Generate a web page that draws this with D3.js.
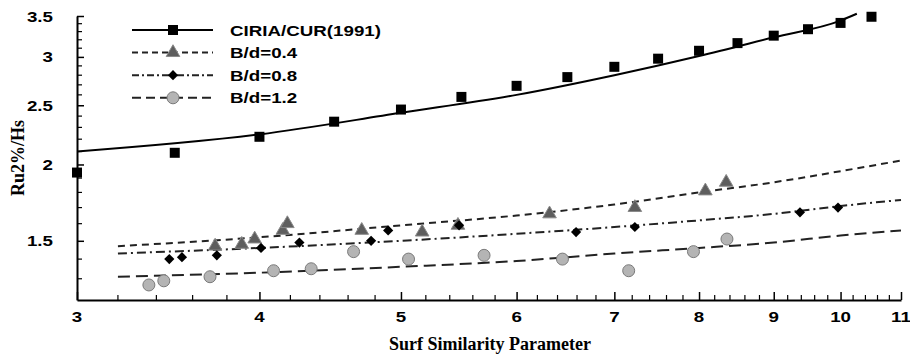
<!DOCTYPE html>
<html>
<head>
<meta charset="utf-8">
<script src="https://cdn.jsdelivr.net/npm/d3@7"></script>
<style>
  body { margin: 0; background: #fff; }
  svg { display: block; }
  .tick-label { font-family: "Liberation Sans", Arial, sans-serif; font-weight: bold; font-size: 15px; fill: #000; }
  .title { font-family: "Liberation Serif", "Times New Roman", serif; font-weight: bold; font-size: 18px; fill: #000; }
</style>
</head>
<body>
<script>
// CIRIA/CUR(1991) points and its fitted curve
const ciriaXi = [3, 3.5, 4, 4.5, 5, 5.5, 6, 6.5, 7, 7.5, 8, 8.5, 9, 9.5, 10, 10.5];
const ciriaRu = [1.94, 2.09, 2.22, 2.35, 2.46, 2.58, 2.69, 2.78, 2.89, 2.98, 3.07, 3.16, 3.25, 3.33, 3.41, 3.49];
const ciriaFitXi = [3, 4, 5, 6, 7, 8, 9, 10, 10.26];
const ciriaFitRu = [2.10, 2.24, 2.43, 2.60, 2.80, 3.01, 3.23, 3.44, 3.53];

// measured points
const b04Xi = [3.73, 3.89, 3.97, 4.15, 4.18, 4.70, 5.17, 5.47, 6.32, 7.23, 8.08, 8.35];
const b04Ru = [1.47, 1.48, 1.51, 1.56, 1.60, 1.56, 1.55, 1.59, 1.66, 1.70, 1.81, 1.87];
const b08Xi = [3.47, 3.54, 3.74, 4.01, 4.26, 4.77, 4.90, 5.48, 6.59, 7.23, 9.38, 9.96];
const b08Ru = [1.40, 1.41, 1.42, 1.46, 1.49, 1.50, 1.56, 1.59, 1.55, 1.58, 1.67, 1.70];
const b12Xi = [3.36, 3.44, 3.70, 4.09, 4.34, 4.64, 5.06, 5.70, 6.45, 7.16, 7.93, 8.36];
const b12Ru = [1.27, 1.29, 1.31, 1.34, 1.35, 1.44, 1.40, 1.42, 1.40, 1.34, 1.44, 1.51];

// trend lines
const trendXi = [3.2, 4, 5, 6, 7, 8, 9, 10, 11];
const b04Fit = [1.47, 1.52, 1.59, 1.65, 1.72, 1.80, 1.87, 1.95, 2.03];
const b08Fit = [1.43, 1.46, 1.50, 1.54, 1.58, 1.62, 1.66, 1.71, 1.75];
const b12Fit = [1.31, 1.33, 1.36, 1.39, 1.43, 1.46, 1.49, 1.53, 1.56];

// axis ticks
const xMajor = [3, 4, 5, 6, 7, 8, 9, 10, 11];
const yMajor = [1.5, 2, 2.5, 3, 3.5];
const legendNames = ["CIRIA/CUR(1991)", "B/d=0.4", "B/d=0.8", "B/d=1.2"];

const width = 910, height = 356;
const stretch = 1.25; // sans labels in the source are drawn wide

const svg = d3.select("body").append("svg")
    .attr("width", width)
    .attr("height", height);

const x = d3.scaleLog().domain([3, 11]).range([77, 901]);
const y = d3.scaleLog().domain([1.2, 3.5]).range([300, 16]);

const zip = (a, b) => a.map((v, i) => [v, b[i]]);

// marker shapes
const sym = {
  square: d3.symbol(d3.symbolSquare, 100)(),
  triangle: d3.symbol(d3.symbolTriangle, 80)(),
  diamond: d3.symbol(d3.symbolSquare, 52)(),
  circle: d3.symbol(d3.symbolCircle, 113)()
};

const series = [
  {name: legendNames[0], pts: zip(ciriaXi, ciriaRu), fit: zip(ciriaFitXi, ciriaFitRu), dash: null,
   shape: "square", fill: "#000", stroke: "none", rot: 0},
  {name: legendNames[1], pts: zip(b04Xi, b04Ru), fit: zip(trendXi, b04Fit), dash: "7,5",
   shape: "triangle", fill: "#5e5e5e", stroke: "#8a8a8a", rot: 0},
  {name: legendNames[2], pts: zip(b08Xi, b08Ru), fit: zip(trendXi, b08Fit), dash: "9,4,2,4",
   shape: "diamond", fill: "#000", stroke: "none", rot: 45},
  {name: legendNames[3], pts: zip(b12Xi, b12Ru), fit: zip(trendXi, b12Fit), dash: "12,6",
   shape: "circle", fill: "#b4b4b4", stroke: "#7a7a7a", rot: 0}
];

// axes, ticks pointing inward; labels added separately below
const xAxis = svg.append("g")
    .attr("transform", "translate(0,300)")
    .call(d3.axisBottom(x).tickValues(xMajor).tickFormat("")
      .tickSizeInner(-8).tickSizeOuter(0));

const yAxis = svg.append("g")
    .attr("transform", "translate(77,0)")
    .call(d3.axisLeft(y).tickValues(yMajor).tickFormat("")
      .tickSizeInner(-7).tickSizeOuter(0));

[xAxis, yAxis].forEach(a => {
  a.select(".domain").attr("stroke", "#000").attr("stroke-width", 2);
  a.selectAll(".tick line").attr("stroke", "#000").attr("stroke-width", 1.5);
});

// tick labels, stretched horizontally like the source
svg.append("g").selectAll("text")
  .data(xMajor)
  .join("text")
    .attr("class", "tick-label")
    .attr("text-anchor", "middle")
    .attr("transform", d => `translate(${x(d)},322) scale(${stretch},1)`)
    .text(d => d);

svg.append("g").selectAll("text")
  .data(yMajor)
  .join("text")
    .attr("class", "tick-label")
    .attr("text-anchor", "end")
    .attr("transform", d => `translate(53,${y(d) + 5.5}) scale(${stretch},1)`)
    .text(d => d);

// minor ticks
svg.append("g").selectAll("line")
  .data(d3.range(3, 11, 0.2).filter(v => Math.abs(v - Math.round(v)) > 0.01))
  .join("line")
    .attr("x1", d => x(d)).attr("x2", d => x(d))
    .attr("y1", 300).attr("y2", 295)
    .attr("stroke", "#000").attr("stroke-width", 1.2);

svg.append("g").selectAll("line")
  .data(d3.range(1.3, 3.5, 0.1).filter(v => Math.abs(v * 2 - Math.round(v * 2)) > 0.01))
  .join("line")
    .attr("x1", 77).attr("x2", 82)
    .attr("y1", d => y(d)).attr("y2", d => y(d))
    .attr("stroke", "#000").attr("stroke-width", 1.2);

// axis titles
svg.append("text")
    .attr("class", "title")
    .attr("x", 490).attr("y", 350)
    .attr("text-anchor", "middle")
    .text("Surf Similarity Parameter");

svg.append("text")
    .attr("class", "title")
    .attr("transform", "translate(24,158) rotate(-90)")
    .attr("text-anchor", "middle")
    .text("Ru2%/Hs");

// fitted lines
const line = d3.line()
    .x(d => x(d[0]))
    .y(d => y(d[1]))
    .curve(d3.curveMonotoneX);

svg.append("g").selectAll("path")
  .data(series)
  .join("path")
    .attr("d", d => line(d.fit))
    .attr("fill", "none")
    .attr("stroke", (d, i) => i === 0 ? "#000" : "#222")
    .attr("stroke-width", 2)
    .attr("stroke-dasharray", d => d.dash);

// markers
series.forEach(s => {
  svg.append("g").selectAll("path")
    .data(s.pts)
    .join("path")
      .attr("d", sym[s.shape])
      .attr("transform", d => `translate(${x(d[0])},${y(d[1])}) rotate(${s.rot})`)
      .attr("fill", s.fill)
      .attr("stroke", s.stroke)
      .attr("stroke-width", 1);
});

// legend
const legend = svg.append("g").selectAll("g")
  .data(series)
  .join("g")
    .attr("transform", (d, i) => `translate(0,${30 + i * 22.6})`);

legend.append("line")
    .attr("x1", 132).attr("x2", 213)
    .attr("stroke", (d, i) => i === 0 ? "#000" : "#222")
    .attr("stroke-width", 2)
    .attr("stroke-dasharray", (d, i) => ["", "6,4", "7,3,2,3", "9,5"][i]);

legend.append("path")
    .attr("d", d => sym[d.shape])
    .attr("transform", d => `translate(173,0) rotate(${d.rot})`)
    .attr("fill", d => d.fill)
    .attr("stroke", d => d.stroke);

legend.append("text")
    .attr("class", "tick-label")
    .attr("transform", `translate(230,5.5) scale(${stretch},1)`)
    .text(d => d.name);
</script>
</body>
</html>
